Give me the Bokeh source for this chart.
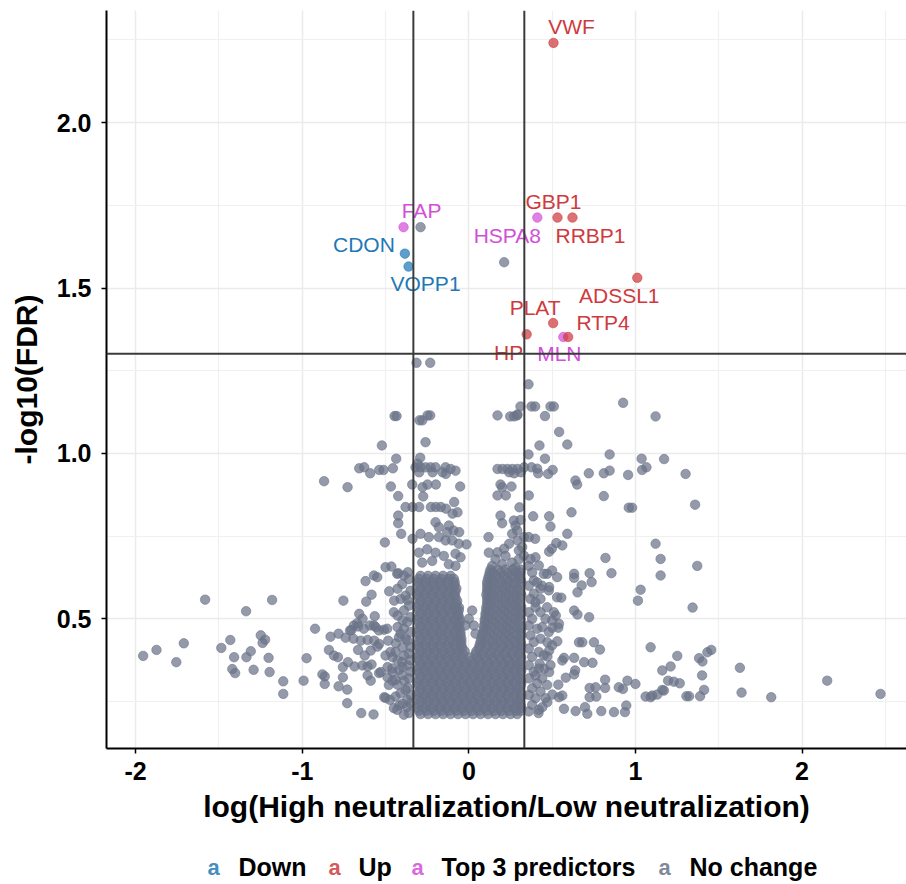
from bokeh.core.properties import value
from bokeh.embed import file_html
from bokeh.layouts import column
from bokeh.models import ColumnDataSource, FixedTicker, NumeralTickFormatter, Span
from bokeh.plotting import figure
from bokeh.resources import INLINE

FONT = "Liberation Sans"
GREY = "#6b7388"
BLUE = "#1f78b6"
RED = "#cf3a3e"
MAGENTA = "#d24fd8"

# highlighted genes
gene_names = ["VWF", "GBP1", "RRBP1", "HSPA8", "FAP", "CDON", "VOPP1",
              "ADSSL1", "PLAT", "MLN", "RTP4", "HP"]
gene_x = [0.508, 0.532, 0.622, 0.411, -0.392, -0.384, -0.362,
          1.011, 0.506, 0.567, 0.596, 0.347]
gene_y = [2.241, 1.713, 1.713, 1.713, 1.684, 1.604, 1.565,
          1.531, 1.394, 1.352, 1.352, 1.360]
gene_group = ["Up", "Up", "Up", "Top 3 predictors", "Top 3 predictors", "Down", "Down",
              "Up", "Up", "Top 3 predictors", "Up", "Up"]
# label placement relative to the point, in screen pixels (right, down)
label_dx = [18, -4, 18, -30, 18, -41, 17, -18, -18, -4, 35, -18]
label_dy = [-16, -16, 18, 18, -17, -9, 17, 18, -16, 17, -14, 18]

# "No change" genes
grey_upper = [
    (-0.29, 1.684), (0.212, 1.578), (-0.314, 1.274), (-0.232, 1.274), (0.358, 1.209),
    (0.31, 1.142), (0.376, 1.142), (0.398, 1.142), (0.49, 1.142), (0.51, 1.142),
    (0.29, 1.115), (0.457, 1.113), (0.926, 1.153), (1.121, 1.112),
    (0.172, 1.115), (0.248, 1.112), (0.272, 1.112), (0.292, 1.118),
    (-0.446, 1.113), (-0.434, 1.113), (-0.296, 1.10), (-0.279, 1.10), (-0.248, 1.115), (-0.232, 1.115),
    (0.542, 1.065), (0.591, 1.027), (0.424, 1.024), (-0.522, 1.024), (-0.26, 1.034),
    (0.358, 0.997), (0.457, 0.984), (0.845, 0.997), (1.037, 0.984), (1.172, 0.983),
    (-0.436, 0.984), (-0.292, 0.987),
]

grey_band = [
    (-0.658, 0.955), (-0.628, 0.958), (-0.592, 0.94), (-0.538, 0.95), (-0.512, 0.95), (-0.456, 0.955),
    (-0.32, 0.958), (-0.29, 0.958), (-0.26, 0.958), (-0.23, 0.958), (-0.2, 0.958), (-0.14, 0.958),
    (-0.11, 0.953), (-0.08, 0.948), (-0.298, 0.943), (-0.218, 0.943), (-0.158, 0.943), (-0.138, 0.938),
    (-0.308, 0.969),
    (0.172, 0.953), (0.202, 0.953), (0.232, 0.953), (0.262, 0.953), (0.292, 0.953), (0.332, 0.958),
    (0.312, 0.943), (0.242, 0.943), (0.272, 0.94),
    (0.376, 0.958), (0.41, 0.954), (0.416, 0.94), (0.476, 0.938), (0.503, 0.95),
    (0.72, 0.94), (0.81, 0.94), (0.845, 0.948), (0.956, 0.935), (1.04, 0.95), (1.066, 0.958), (1.301, 0.938),
    (0.64, 0.918), (0.65, 0.906),
    (-0.869, 0.916), (-0.728, 0.898), (-0.468, 0.9), (-0.34, 0.906), (-0.278, 0.898), (-0.248, 0.906),
    (-0.198, 0.906), (-0.052, 0.9), (-0.274, 0.87), (-0.424, 0.871),
    (0.19, 0.906), (0.2, 0.898), (0.256, 0.9), (0.172, 0.873), (0.222, 0.873), (0.36, 0.873),
    (0.81, 0.871), (1.358, 0.845),
    (-0.38, 0.838), (-0.338, 0.838), (-0.298, 0.838), (-0.228, 0.838), (-0.198, 0.838), (-0.168, 0.838),
    (-0.138, 0.833), (-0.098, 0.818), (-0.068, 0.822), (-0.088, 0.853),
    (0.96, 0.836), (0.98, 0.836), (0.304, 0.837), (0.386, 0.81), (0.482, 0.81), (0.49, 0.779), (0.616, 0.822),
    (0.31, 0.799), (0.29, 0.767), (0.19, 0.812), (0.2, 0.789), (0.27, 0.797), (0.26, 0.757), (0.28, 0.782),
]

grey_mid = [
    (-0.424, 0.812), (-0.424, 0.789), (-0.406, 0.757), (-0.338, 0.742), (-0.504, 0.731),
    (-0.2, 0.792), (-0.18, 0.777), (-0.12, 0.782), (-0.13, 0.762), (-0.092, 0.767), (-0.058, 0.762),
    (-0.29, 0.757), (-0.24, 0.747), (-0.18, 0.747), (-0.14, 0.737), (-0.1, 0.737), (-0.06, 0.727),
    (-0.014, 0.725), (-0.08, 0.697), (-0.05, 0.686),
    (0.118, 0.747), (0.172, 0.701), (0.212, 0.712), (0.242, 0.727), (0.292, 0.737), (0.332, 0.747),
    (0.591, 0.757), (0.36, 0.747), (0.398, 0.742), (0.525, 0.729), (0.561, 0.722), (0.482, 0.703),
    (0.498, 0.712), (1.121, 0.727), (0.82, 0.684), (1.151, 0.681), (0.32, 0.717), (0.30, 0.707),
    (0.33, 0.691), (0.40, 0.686), (0.37, 0.681),
    (-0.30, 0.70), (-0.25, 0.71), (-0.20, 0.70), (-0.15, 0.69), (-0.28, 0.67), (-0.22, 0.675),
    (-0.12, 0.665), (-0.08, 0.66), (0.12, 0.70), (0.16, 0.68), (0.22, 0.69), (0.26, 0.67),
    (0.30, 0.68), (0.14, 0.66), (0.20, 0.665), (0.28, 0.655),
    (0.0, 0.50), (0.03, 0.48), (0.02, 0.525), (-0.02, 0.48), (0.04, 0.455),
]

grey_right = [
    (1.151, 0.631), (0.856, 0.638), (0.632, 0.636), (0.632, 0.624), (0.725, 0.638), (0.737, 0.611),
    (0.677, 0.601), (0.652, 0.58), (0.42, 0.661), (0.47, 0.636), (0.482, 0.596),
    (1.031, 0.588), (1.015, 0.555), (0.555, 0.564), (0.632, 0.525), (0.652, 0.513), (0.722, 0.505),
    (0.522, 0.51), (0.501, 0.473), (0.537, 0.473), (0.541, 0.485), (0.531, 0.432), (0.471, 0.429),
    (0.482, 0.404), (0.661, 0.429), (0.681, 0.429), (0.751, 0.429), (0.787, 0.407), (1.091, 0.414),
    (0.571, 0.382), (0.632, 0.382), (0.692, 0.369), (0.742, 0.367), (0.561, 0.374), (0.471, 0.386),
    (0.425, 0.364), (0.482, 0.339), (0.452, 0.349), (0.40, 0.329), (0.638, 0.344), (0.632, 0.332),
    (0.582, 0.322), (0.537, 0.301),
    (0.818, 0.316), (0.725, 0.291), (0.761, 0.293), (0.818, 0.291), (0.9, 0.293), (0.925, 0.288),
    (0.952, 0.313), (1.0, 0.303), (1.161, 0.344),
    (1.061, 0.265), (1.091, 0.263), (1.101, 0.268), (1.131, 0.271), (1.161, 0.285), (0.725, 0.263),
    (0.765, 0.265), (0.561, 0.268), (0.541, 0.263), (0.501, 0.271), (0.471, 0.248), (0.441, 0.233),
    (0.418, 0.215), (0.571, 0.228), (0.641, 0.221), (0.697, 0.233), (0.711, 0.213), (0.795, 0.221),
    (0.871, 0.218), (0.937, 0.218), (0.945, 0.238),
    (1.371, 0.66), (1.343, 0.534), (1.251, 0.388), (1.211, 0.356), (1.196, 0.313), (1.23, 0.31),
    (1.266, 0.305), (1.382, 0.381), (1.402, 0.371), (1.432, 0.399), (1.455, 0.406), (1.40, 0.329),
    (1.412, 0.285), (1.388, 0.266), (1.322, 0.266), (1.306, 0.266), (1.171, 0.283),
    (1.627, 0.352), (1.637, 0.277), (1.815, 0.263), (2.151, 0.313), (2.471, 0.273),
    (0.39, 0.616), (0.43, 0.591), (0.48, 0.586), (0.45, 0.636), (0.50, 0.646), (0.53, 0.626),
    (0.39, 0.576), (0.43, 0.56), (0.40, 0.535), (0.47, 0.535), (0.51, 0.52), (0.53, 0.565),
    (0.50, 0.495), (0.44, 0.475),
    (0.36, 0.66), (0.38, 0.64), (0.36, 0.60), (0.41, 0.61), (0.44, 0.60), (0.37, 0.56), (0.40, 0.55),
    (0.36, 0.52), (0.43, 0.52), (0.38, 0.50), (0.46, 0.50), (0.36, 0.48), (0.41, 0.47), (0.37, 0.45),
    (0.43, 0.44), (0.39, 0.43), (0.36, 0.41), (0.42, 0.40), (0.45, 0.39), (0.38, 0.385), (0.36, 0.36),
    (0.42, 0.35), (0.39, 0.34), (0.44, 0.32), (0.36, 0.32), (0.41, 0.305), (0.38, 0.29), (0.43, 0.28),
    (0.36, 0.27), (0.40, 0.26), (0.46, 0.26), (0.38, 0.24), (0.42, 0.225), (0.36, 0.22), (0.47, 0.30),
    (0.49, 0.36), (0.50, 0.42), (0.48, 0.46),
]

grey_left = [
    (-0.5, 0.656), (-0.465, 0.658), (-0.43, 0.636), (-0.62, 0.614), (-0.57, 0.631), (-0.55, 0.626),
    (-0.478, 0.583), (-0.428, 0.591), (-0.584, 0.573), (-0.616, 0.552), (-0.448, 0.555),
    (-1.583, 0.558), (-1.181, 0.557), (-0.753, 0.555), (-1.337, 0.523),
    (-0.658, 0.515), (-0.638, 0.5), (-0.565, 0.508), (-0.67, 0.487), (-0.69, 0.48), (-0.63, 0.47),
    (-0.57, 0.48), (-0.54, 0.465), (-0.51, 0.467), (-0.49, 0.47),
    (-0.923, 0.47), (-0.83, 0.446), (-0.782, 0.455), (-0.74, 0.443), (-0.713, 0.465), (-0.693, 0.44),
    (-1.249, 0.45), (-1.223, 0.437), (-1.238, 0.427), (-1.432, 0.436), (-1.486, 0.412), (-1.711, 0.426),
    (-1.875, 0.406), (-1.955, 0.388), (-1.756, 0.369),
    (-1.409, 0.384), (-1.335, 0.384), (-1.309, 0.402), (-1.202, 0.382), (-1.42, 0.348), (-1.403, 0.336),
    (-1.292, 0.346), (-1.196, 0.339), (-1.114, 0.311), (-1.114, 0.273), (-0.992, 0.313), (-0.974, 0.381),
    (-0.879, 0.332), (-0.865, 0.326), (-0.865, 0.303), (-0.84, 0.406), (-0.81, 0.389), (-0.786, 0.384),
    (-0.756, 0.354), (-0.726, 0.369), (-0.686, 0.356), (-0.756, 0.323), (-0.782, 0.296), (-0.73, 0.286),
    (-0.73, 0.245), (-0.646, 0.215), (-0.572, 0.211), (-0.5, 0.261), (-0.474, 0.255), (-0.43, 0.225),
    (-0.424, 0.638), (-0.39, 0.631), (-0.366, 0.641), (-0.41, 0.56), (-0.368, 0.557),
    (-0.705, 0.466), (-0.665, 0.477), (-0.593, 0.48), (-0.559, 0.475),
    (-0.428, 0.51), (-0.398, 0.495), (-0.428, 0.475), (-0.39, 0.47), (-0.42, 0.444), (-0.368, 0.434),
    (-0.649, 0.434), (-0.608, 0.436), (-0.568, 0.434), (-0.538, 0.424), (-0.484, 0.434), (-0.438, 0.426),
    (-0.398, 0.414), (-0.665, 0.406), (-0.625, 0.389), (-0.589, 0.404), (-0.549, 0.416),
    (-0.639, 0.359), (-0.608, 0.356), (-0.584, 0.362),
    (-0.5, 0.389), (-0.458, 0.384), (-0.428, 0.374), (-0.388, 0.389), (-0.368, 0.359), (-0.398, 0.354),
    (-0.488, 0.354), (-0.458, 0.339), (-0.529, 0.339),
    (-0.608, 0.329), (-0.589, 0.313), (-0.539, 0.336), (-0.488, 0.323), (-0.458, 0.313), (-0.428, 0.301),
    (-0.388, 0.313), (-0.368, 0.293), (-0.508, 0.263), (-0.418, 0.238), (-0.398, 0.243), (-0.37, 0.233),
    (-0.36, 0.62), (-0.40, 0.605), (-0.35, 0.585), (-0.38, 0.57), (-0.36, 0.54), (-0.39, 0.525),
    (-0.35, 0.505), (-0.45, 0.52), (-0.37, 0.49), (-0.41, 0.455), (-0.35, 0.46), (-0.38, 0.44),
    (-0.35, 0.415), (-0.44, 0.40), (-0.36, 0.395), (-0.40, 0.37), (-0.35, 0.375), (-0.42, 0.345),
    (-0.35, 0.34), (-0.40, 0.33), (-0.36, 0.32), (-0.44, 0.315), (-0.38, 0.285), (-0.35, 0.27),
    (-0.41, 0.275), (-0.37, 0.255), (-0.44, 0.265), (-0.35, 0.245), (-0.36, 0.215), (-0.39, 0.21),
    (-0.46, 0.35), (-0.47, 0.40), (-0.48, 0.30), (-0.45, 0.23),
]

# the solid mass near zero, read row by row: (y, [x ...])
core_rows = [
    (0.212, [-0.29, -0.245, -0.2, -0.155, -0.11, -0.065, -0.02, 0.025, 0.07, 0.115, 0.16, 0.205, 0.25, 0.29]),
    (0.222, [-0.3, -0.255, -0.21, -0.165, -0.12, -0.075, -0.03, 0.015, 0.06, 0.105, 0.15, 0.195, 0.24, 0.285, 0.31]),
    (0.231, [-0.31, -0.265, -0.22, -0.175, -0.13, -0.085, -0.04, 0.005, 0.05, 0.095, 0.14, 0.185, 0.23, 0.275, 0.315]),
    (0.241, [-0.3, -0.255, -0.21, -0.165, -0.12, -0.075, -0.03, 0.015, 0.06, 0.105, 0.15, 0.195, 0.24, 0.285, 0.31]),
    (0.25, [-0.29, -0.245, -0.2, -0.155, -0.11, -0.065, -0.02, 0.025, 0.07, 0.115, 0.16, 0.205, 0.25, 0.295]),
    (0.26, [-0.3, -0.255, -0.21, -0.165, -0.12, -0.075, -0.03, 0.015, 0.06, 0.105, 0.15, 0.195, 0.24, 0.285, 0.31]),
    (0.269, [-0.31, -0.265, -0.22, -0.175, -0.13, -0.085, -0.04, 0.005, 0.05, 0.095, 0.14, 0.185, 0.23, 0.275, 0.315]),
    (0.279, [-0.3, -0.255, -0.21, -0.165, -0.12, -0.075, -0.03, 0.015, 0.06, 0.105, 0.15, 0.195, 0.24, 0.285, 0.31]),
    (0.288, [-0.29, -0.245, -0.2, -0.155, -0.11, -0.065, -0.02, 0.025, 0.07, 0.115, 0.16, 0.205, 0.25, 0.295]),
    (0.298, [-0.3, -0.255, -0.21, -0.165, -0.12, -0.075, -0.03, 0.015, 0.06, 0.105, 0.15, 0.195, 0.24, 0.285, 0.31]),
    (0.307, [-0.31, -0.265, -0.22, -0.175, -0.13, -0.085, -0.04, 0.005, 0.05, 0.095, 0.14, 0.185, 0.23, 0.275, 0.315]),
    (0.317, [-0.3, -0.255, -0.21, -0.165, -0.12, -0.075, -0.03, 0.015, 0.06, 0.105, 0.15, 0.195, 0.24, 0.285, 0.31]),
    (0.326, [-0.29, -0.245, -0.2, -0.155, -0.11, -0.065, -0.02, 0.025, 0.07, 0.115, 0.16, 0.205, 0.25, 0.295]),
    (0.336, [-0.3, -0.255, -0.21, -0.165, -0.12, -0.075, -0.03, 0.015, 0.06, 0.105, 0.15, 0.195, 0.24, 0.285, 0.31]),
    (0.345, [-0.31, -0.265, -0.22, -0.175, -0.13, -0.085, -0.04, 0.005, 0.05, 0.095, 0.14, 0.185, 0.23, 0.275, 0.315]),
    (0.355, [-0.3, -0.255, -0.21, -0.165, -0.12, -0.075, -0.03, 0.015, 0.06, 0.105, 0.15, 0.195, 0.24, 0.285, 0.31]),
    (0.364, [-0.29, -0.245, -0.2, -0.155, -0.11, -0.065, -0.02, 0.025, 0.07, 0.115, 0.16, 0.205, 0.25, 0.295]),
    (0.374, [-0.3, -0.255, -0.21, -0.165, -0.12, -0.075, -0.03, 0.015, 0.06, 0.105, 0.15, 0.195, 0.24, 0.285, 0.31]),
    (0.383, [-0.31, -0.265, -0.22, -0.175, -0.13, -0.085, -0.04, 0.005, 0.05, 0.095, 0.14, 0.185, 0.23, 0.275, 0.315]),
    (0.393, [-0.3, -0.255, -0.21, -0.165, -0.12, -0.075, -0.035, 0.04, 0.08, 0.125, 0.17, 0.215, 0.26, 0.3]),
    (0.402, [-0.29, -0.245, -0.2, -0.155, -0.11, -0.065, -0.025, 0.045, 0.09, 0.135, 0.18, 0.225, 0.27, 0.31]),
    (0.412, [-0.3, -0.255, -0.21, -0.165, -0.12, -0.075, -0.04, 0.06, 0.1, 0.145, 0.19, 0.235, 0.28, 0.31]),
    (0.421, [-0.31, -0.265, -0.22, -0.175, -0.13, -0.085, -0.045, 0.065, 0.11, 0.155, 0.2, 0.245, 0.29, 0.315]),
    (0.431, [-0.3, -0.255, -0.21, -0.165, -0.12, -0.075, -0.045, 0.07, 0.1, 0.145, 0.19, 0.235, 0.28, 0.31]),
    (0.44, [-0.29, -0.245, -0.2, -0.155, -0.11, -0.065, -0.045, 0.075, 0.12, 0.165, 0.21, 0.255, 0.3]),
    (0.45, [-0.3, -0.255, -0.21, -0.165, -0.12, -0.075, -0.05, 0.08, 0.105, 0.15, 0.195, 0.24, 0.285, 0.315]),
    (0.459, [-0.31, -0.265, -0.22, -0.175, -0.13, -0.085, -0.05, 0.085, 0.13, 0.175, 0.22, 0.265, 0.31]),
    (0.469, [-0.3, -0.255, -0.21, -0.165, -0.12, -0.075, -0.055, 0.09, 0.11, 0.155, 0.2, 0.245, 0.29, 0.315]),
    (0.478, [-0.29, -0.245, -0.2, -0.155, -0.11, -0.065, 0.09, 0.135, 0.18, 0.225, 0.27, 0.315]),
    (0.488, [-0.3, -0.255, -0.21, -0.165, -0.12, -0.075, -0.055, 0.095, 0.115, 0.16, 0.205, 0.25, 0.295]),
    (0.497, [-0.31, -0.265, -0.22, -0.175, -0.13, -0.085, -0.055, 0.095, 0.14, 0.185, 0.23, 0.275, 0.31]),
    (0.507, [-0.3, -0.255, -0.21, -0.165, -0.12, -0.075, -0.06, 0.1, 0.12, 0.165, 0.21, 0.255, 0.3]),
    (0.516, [-0.29, -0.245, -0.2, -0.155, -0.11, -0.065, 0.1, 0.145, 0.19, 0.235, 0.28, 0.315]),
    (0.526, [-0.3, -0.255, -0.21, -0.165, -0.12, -0.075, -0.06, 0.105, 0.125, 0.17, 0.215, 0.26, 0.3]),
    (0.535, [-0.31, -0.265, -0.22, -0.175, -0.13, -0.085, -0.06, 0.105, 0.15, 0.195, 0.24, 0.285, 0.315]),
    (0.545, [-0.3, -0.255, -0.21, -0.165, -0.12, -0.075, 0.11, 0.13, 0.175, 0.22, 0.265, 0.305]),
    (0.554, [-0.29, -0.245, -0.2, -0.155, -0.11, -0.07, 0.11, 0.155, 0.2, 0.245, 0.29]),
    (0.564, [-0.3, -0.255, -0.21, -0.165, -0.12, -0.08, 0.11, 0.13, 0.175, 0.22, 0.265, 0.305]),
    (0.573, [-0.31, -0.265, -0.22, -0.175, -0.13, -0.085, 0.105, 0.15, 0.195, 0.24, 0.285, 0.315]),
    (0.583, [-0.3, -0.255, -0.21, -0.165, -0.12, -0.08, 0.11, 0.13, 0.175, 0.22, 0.265, 0.305]),
    (0.592, [-0.29, -0.245, -0.2, -0.155, -0.11, -0.075, 0.11, 0.155, 0.2, 0.245, 0.29]),
    (0.602, [-0.3, -0.255, -0.21, -0.165, -0.12, -0.085, 0.11, 0.135, 0.18, 0.225, 0.27, 0.31]),
    (0.611, [-0.305, -0.26, -0.215, -0.17, -0.125, -0.085, 0.11, 0.15, 0.195, 0.24, 0.285, 0.315]),
    (0.621, [-0.3, -0.255, -0.21, -0.165, -0.12, -0.09, 0.115, 0.14, 0.185, 0.23, 0.275, 0.31]),
    (0.63, [-0.29, -0.245, -0.2, -0.155, -0.11, 0.12, 0.165, 0.21, 0.255, 0.3]),
    (0.64, [0.125, 0.145, 0.19, 0.235, 0.28, 0.31]),
    (0.649, [0.13, 0.175, 0.22, 0.265, 0.31]),
]

legend_labels = ["Down", "Up", "Top 3 predictors", "No change"]
legend_colors = [BLUE, RED, MAGENTA, GREY]

fc_cutoff = 0.333
fdr_cutoff = 1.301

X0, X1 = -2.175, 2.627
Y0, Y1 = 0.108, 2.339
W, H = 906, 840
BL, BR, BT, BB = 106, 0, 10, 92
sx = (W - BL - BR) / (X1 - X0)
sy = (H - BT - BB) / (Y1 - Y0)

p = figure(width=W, height=H, x_range=(X0, X1), y_range=(Y0, Y1),
           output_backend="svg", toolbar_location=None,
           min_border_left=BL, min_border_right=BR, min_border_top=BT, min_border_bottom=BB,
           x_axis_label="log(High neutralization/Low neutralization)",
           y_axis_label="-log10(FDR)")
p.outline_line_color = None

p.xaxis.ticker = FixedTicker(ticks=[-2, -1, 0, 1, 2], minor_ticks=[-1.5, -0.5, 0.5, 1.5, 2.5])
p.yaxis.ticker = FixedTicker(ticks=[0.5, 1.0, 1.5, 2.0], minor_ticks=[0.25, 0.75, 1.25, 1.75, 2.25])
p.xaxis.formatter = NumeralTickFormatter(format="0")
p.yaxis.formatter = NumeralTickFormatter(format="0.0")
for ax in (p.xaxis[0], p.yaxis[0]):
    ax.axis_line_color = "black"
    ax.axis_line_width = 2
    ax.major_tick_line_color = "black"
    ax.major_tick_line_width = 1.5
    ax.major_tick_out = 5
    ax.major_tick_in = 0
    ax.minor_tick_line_color = None
    ax.major_label_text_font = FONT
    ax.major_label_text_font_style = "bold"
    ax.major_label_text_font_size = "25px"
    ax.major_label_text_color = "black"
    ax.axis_label_text_font = FONT
    ax.axis_label_text_font_style = "bold"
    ax.axis_label_text_font_size = "30px"
    ax.axis_label_text_color = "black"
p.xaxis.major_label_standoff = 8
p.xaxis.axis_label_standoff = 7
p.yaxis.major_label_standoff = 10
p.yaxis.axis_label_standoff = 11

for g in (p.xgrid, p.ygrid):
    g.grid_line_color = "#ebebeb"
    g.grid_line_width = 1.5
    g.minor_grid_line_color = "#f0f0f0"
    g.minor_grid_line_width = 1.2

grey_pts = grey_upper + grey_band + grey_mid + grey_right + grey_left
for y, xs in core_rows:
    grey_pts += [(x, y) for x in xs]
grey = ColumnDataSource(dict(x=[q[0] for q in grey_pts], y=[q[1] for q in grey_pts]))
p.scatter("x", "y", source=grey, size=9.5, fill_color=GREY, fill_alpha=0.72,
          line_color=GREY, line_alpha=0.72, line_width=0.8)

colors = {"Down": BLUE, "Up": RED, "Top 3 predictors": MAGENTA}
for grp in ["Top 3 predictors", "Down", "Up"]:
    idx = [i for i, g in enumerate(gene_group) if g == grp]
    src = ColumnDataSource(dict(
        x=[gene_x[i] for i in idx], y=[gene_y[i] for i in idx],
        lx=[gene_x[i] + label_dx[i] / sx for i in idx],
        ly=[gene_y[i] - label_dy[i] / sy for i in idx],
        name=[gene_names[i] for i in idx]))
    p.scatter("x", "y", source=src, size=9.5, fill_color=colors[grp], fill_alpha=0.72,
              line_color=colors[grp], line_alpha=0.72, line_width=0.8)
    p.text("lx", "ly", text="name", source=src, text_color=colors[grp],
           text_font=value(FONT), text_font_size="21px",
           text_align="center", text_baseline="middle")

for loc, dim in ((-fc_cutoff, "height"), (fc_cutoff, "height"), (fdr_cutoff, "width")):
    p.add_layout(Span(location=loc, dimension=dim, line_color="#3b3b3b", line_width=2))

# legend strip under the plot; its frame lines up with the plot frame, so
# the x range is given in page pixels from BL to W
LH = 884 - H
leg = figure(width=W, height=LH, x_range=(BL, W), y_range=(LH, 0),
             output_backend="svg", toolbar_location=None,
             x_axis_location=None, y_axis_location=None, min_border=0)
leg.outline_line_color = None
leg.grid.visible = False
key_px = [213, 334, 417, 664]
txt_px = [238, 358, 441, 689]
leg.text(key_px, [LH - 17] * 4, text=["a"] * 4, text_color=legend_colors, text_alpha=0.85,
         text_font=value(FONT), text_font_style="bold", text_font_size="22px",
         text_align="center", text_baseline="middle")
leg.text(txt_px, [LH - 18] * 4, text=legend_labels, text_color="black",
         text_font=value(FONT), text_font_style="bold", text_font_size="25px",
         text_align="left", text_baseline="middle")

open("out.html", "w").write(file_html(column(p, leg, spacing=0), INLINE))
